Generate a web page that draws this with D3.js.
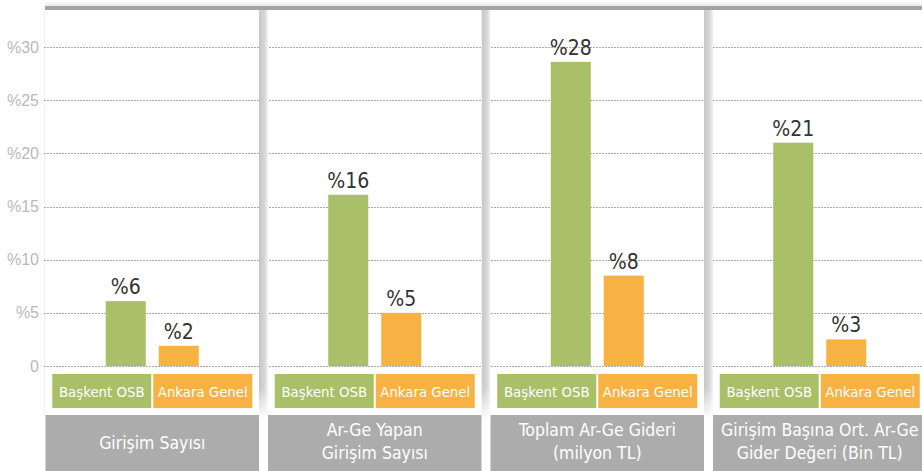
<!DOCTYPE html>
<html>
<head>
<meta charset="utf-8">
<script src="https://cdn.jsdelivr.net/npm/d3@7"></script>
<style>
    html, body { margin: 0; padding: 0; background: #fff; }
    svg { display: block; font-family: "DejaVu Sans Condensed", "Liberation Sans Narrow", "Roboto", sans-serif; }
</style>
</head>
<body>
<div id="chart"></div>
<script>
// Panels (categories) and their title lines
const categories = ['Girişim Sayısı', 'Ar-Ge Yapan Girişim Sayısı', 'Toplam Ar-Ge Gideri (milyon TL)', 'Girişim Başına Ort. Ar-Ge Gider Değeri (Bin TL)'];
const titleLines = [
    ['Girişim Sayısı'],
    ['Ar-Ge Yapan', 'Girişim Sayısı'],
    ['Toplam Ar-Ge Gideri', '(milyon TL)'],
    ['Girişim Başına Ort. Ar-Ge', 'Gider Değeri (Bin TL)']
];
const series = ['Başkent OSB', 'Ankara Genel'];
const baskentValues = [6.1, 16.1, 28.6, 21.0];
const ankaraValues = [1.9, 5.0, 8.5, 2.5];
const baskentLabels = ['%6', '%16', '%28', '%21'];
const ankaraLabels = ['%2', '%5', '%8', '%3'];
const yTicks = [0, 5, 10, 15, 20, 25, 30];
const yTickLabels = ['0', '%5', '%10', '%15', '%20', '%25', '%30'];

const width = 922, height = 471;
const colors = { 'Başkent OSB': '#a9bf68', 'Ankara Genel': '#f8b243' };

const svg = d3.select('#chart').append('svg')
    .attr('width', width)
    .attr('height', height);

const defs = svg.append('defs');

// Divider shadow gradient
const divGrad = defs.append('linearGradient').attr('id', 'divGrad');
divGrad.append('stop').attr('offset', '0%').attr('stop-color', '#c6c6c6');
divGrad.append('stop').attr('offset', '60%').attr('stop-color', '#d6d6d6');
divGrad.append('stop').attr('offset', '100%').attr('stop-color', '#f2f2f2');

// Vertical fade for divider bottoms
const fade = defs.append('linearGradient').attr('id', 'fadeGrad')
    .attr('x1', 0).attr('y1', 0).attr('x2', 0).attr('y2', 1);
fade.append('stop').attr('offset', '0%').attr('stop-color', '#fff');
fade.append('stop').attr('offset', '92%').attr('stop-color', '#fff');
fade.append('stop').attr('offset', '100%').attr('stop-color', '#000');
defs.append('mask').attr('id', 'fadeMask').attr('maskContentUnits', 'objectBoundingBox')
    .append('rect').attr('width', 1).attr('height', 1).attr('fill', 'url(#fadeGrad)');

// Top shadow
const topGrad = defs.append('linearGradient').attr('id', 'topGrad')
    .attr('x1', 0).attr('y1', 0).attr('x2', 0).attr('y2', 1);
topGrad.append('stop').attr('offset', '0%').attr('stop-color', '#fff');
topGrad.append('stop').attr('offset', '100%').attr('stop-color', '#ececec');

// Scales
const x = d3.scaleBand().domain(categories).range([41, 931]);
const xBar = d3.scaleBand().domain(series).range([-46.5, 46.5]).paddingInner(13 / 53);
const xLegend = d3.scaleBand().domain(series).range([-100, 100]).paddingInner(0.02);
const y = d3.scaleLinear().domain([0, 30]).range([366, 47]);

const plotLeft = 44, plotTop = 10;

// Top shadow and bar
svg.append('rect')
    .attr('x', plotLeft + 1).attr('y', 0)
    .attr('width', width - plotLeft).attr('height', 6)
    .attr('fill', 'url(#topGrad)');
svg.append('rect')
    .attr('x', plotLeft + 1).attr('y', 6)
    .attr('width', width - plotLeft).attr('height', 4)
    .attr('fill', '#9fa5a8');

// Faint left edge
svg.append('line')
    .attr('x1', plotLeft + 0.5).attr('x2', plotLeft + 0.5)
    .attr('y1', plotTop).attr('y2', 415)
    .attr('stroke', '#f1f1f1');

// Y axis: gridlines and labels
const yAxis = svg.append('g')
    .attr('class', 'y-axis')
    .attr('transform', `translate(${plotLeft},0)`)
    .call(d3.axisLeft(y)
        .tickValues(yTicks)
        .tickSize(-(width - plotLeft))
        .tickPadding(5)
        .tickFormat((d, i) => yTickLabels[i]));

yAxis.select('.domain').remove();
yAxis.selectAll('.tick line')
    .attr('stroke', '#a9a9a9')
    .attr('stroke-dasharray', '2,1')
    .attr('shape-rendering', 'crispEdges');
yAxis.selectAll('.tick text')
    .attr('fill', '#b5babe')
    .attr('font-size', 16)
    .attr('font-family', 'inherit');

// Dividers between panels
const boundaries = categories.slice(1).map(c => x(c));
svg.append('g').selectAll('rect')
    .data(boundaries)
    .join('rect')
    .attr('x', d => d - 4.5)
    .attr('y', plotTop)
    .attr('width', 9)
    .attr('height', 410)
    .attr('fill', 'url(#divGrad)')
    .attr('mask', 'url(#fadeMask)');

// Panels
const panels = svg.append('g').selectAll('g.panel')
    .data(categories.map((c, i) => ({
        cat: c,
        lines: titleLines[i],
        bars: [
            { s: series[0], v: baskentValues[i], label: baskentLabels[i] },
            { s: series[1], v: ankaraValues[i], label: ankaraLabels[i] }
        ]
    })))
    .join('g')
    .attr('class', 'panel')
    .attr('transform', d => `translate(${x(d.cat) + x.bandwidth() / 2},0)`);

// Bars
panels.selectAll('rect.bar')
    .data(d => d.bars)
    .join('rect')
    .attr('class', 'bar')
    .attr('x', d => xBar(d.s))
    .attr('y', d => y(d.v))
    .attr('width', xBar.bandwidth())
    .attr('height', d => y(0) - y(d.v))
    .attr('fill', d => colors[d.s]);

// Value labels
panels.selectAll('text.value')
    .data(d => d.bars)
    .join('text')
    .attr('class', 'value')
    .attr('x', d => xBar(d.s) + xBar.bandwidth() / 2)
    .attr('y', d => y(d.v) - 7)
    .attr('text-anchor', 'middle')
    .attr('font-size', 21)
    .attr('fill', '#333')
    .text(d => d.label);

// Legend boxes
const legend = panels.selectAll('g.legend')
    .data(series)
    .join('g')
    .attr('class', 'legend')
    .attr('transform', d => `translate(${xLegend(d)},374)`);

legend.append('rect')
    .attr('width', xLegend.bandwidth())
    .attr('height', 34)
    .attr('fill', d => colors[d]);

legend.append('text')
    .attr('x', xLegend.bandwidth() / 2)
    .attr('y', 22.5)
    .attr('text-anchor', 'middle')
    .attr('font-size', 14.8)
    .attr('fill', '#fff')
    .text(d => d);

// Title boxes
const boxW = x.bandwidth() - 9;
panels.append('rect')
    .attr('x', -boxW / 2)
    .attr('y', 415)
    .attr('width', boxW)
    .attr('height', height - 415)
    .attr('fill', '#acacac');

panels.append('text')
    .attr('text-anchor', 'middle')
    .attr('font-size', 17.5)
    .attr('fill', '#fff')
    .each(function (d) {
        const t = d3.select(this);
        const y0 = d.lines.length === 1 ? 449 : 436;
        d.lines.forEach((line, i) => {
            t.append('tspan')
                .attr('x', 0)
                .attr('y', y0 + i * 23)
                .text(line);
        });
    });
</script>
</body>
</html>
